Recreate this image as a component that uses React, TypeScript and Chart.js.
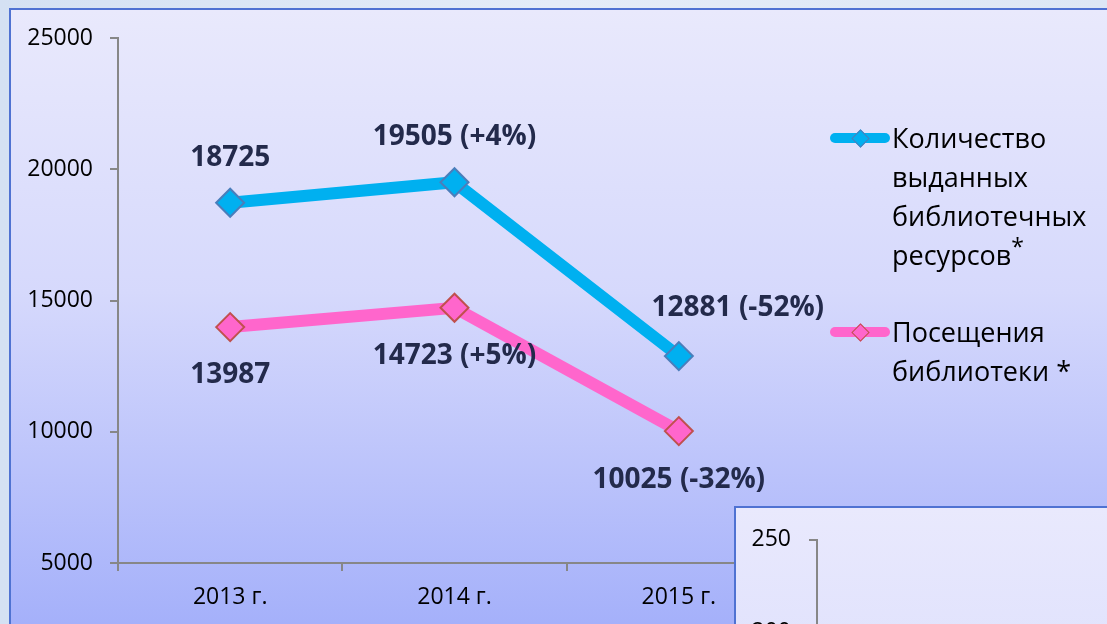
import React, { useEffect, useRef } from 'react';
import { Chart, registerables } from 'chart.js';

Chart.register(...registerables);

// ---- data ----
const categories = ['2013 г.', '2014 г.', '2015 г.'];
const issuedResources = [18725, 19505, 12881];
const libraryVisits = [13987, 14723, 10025];
const issuedChange = ['', '+4%', '-52%'];
const visitsChange = ['', '+5%', '-32%'];
const yMin = 5000;
const yMax = 25000;
const yStep = 5000;
const insetMin = 0;
const insetMax = 250;
const insetStep = 50;
const legendIssued = ['Количество', 'выданных', 'библиотечных', 'ресурсов'];
const legendVisits = ['Посещения', 'библиотеки *'];

// ---- styles ----
const FONT = '"Open Sans", "Noto Sans", sans-serif';
const BLUE = '#00b0f0';
const BLUE_EDGE = '#4a7ebb';
const PINK = '#ff66cc';
const PINK_EDGE = '#c0504d';
const LABEL_COLOR = '#232a4b';
const AXIS = '#878787';

// label placement (dx, dy) relative to each point
const labelOffsets = [
  [[0, -45], [0, -45], [59, -48]],
  [[0, 48], [0, 48], [0, 49]],
];

const labelPlugin = {
  id: 'pointLabels',
  afterDatasetsDraw(chart: any) {
    const ctx = chart.ctx;
    ctx.save();
    ctx.font = `bold 28px ${FONT}`;
    ctx.fillStyle = LABEL_COLOR;
    ctx.textAlign = 'center';
    ctx.textBaseline = 'middle';
    const changes = [issuedChange, visitsChange];
    chart.data.datasets.forEach((ds: any, di: number) => {
      const meta = chart.getDatasetMeta(di);
      meta.data.forEach((pt: any, i: number) => {
        const v = ds.data[i];
        const c = changes[di][i];
        const text = c ? `${v} (${c})` : `${v}`;
        const [dx, dy] = labelOffsets[di][i];
        ctx.fillText(text, pt.x + dx, pt.y + dy);
      });
    });
    ctx.restore();
  },
};

const plainTick = (v: any) => String(v);

function LegendMarker({ top, color, edge }: { top: number; color: string; edge: string }) {
  return (
    <>
      <div
        style={{
          position: 'absolute',
          left: 830,
          top: top - 5,
          width: 60,
          height: 10,
          borderRadius: 5,
          background: color,
        }}
      />
      <div
        style={{
          position: 'absolute',
          left: 860 - 6.5,
          top: top - 6.5,
          width: 11,
          height: 11,
          background: color,
          border: `1.5px solid ${edge}`,
          transform: 'rotate(45deg)',
        }}
      />
    </>
  );
}

export default function App() {
  const mainRef = useRef<HTMLCanvasElement>(null);
  const insetRef = useRef<HTMLCanvasElement>(null);

  useEffect(() => {
    const main = new Chart(mainRef.current as HTMLCanvasElement, {
      type: 'line',
      data: {
        labels: categories,
        datasets: [
          {
            label: legendIssued.join(' ') + '*',
            data: issuedResources,
            borderColor: BLUE,
            borderWidth: 12,
            tension: 0,
            pointStyle: 'rectRot',
            pointRadius: 14,
            pointBackgroundColor: BLUE,
            pointBorderColor: BLUE_EDGE,
            pointBorderWidth: 2,
          },
          {
            label: legendVisits.join(' '),
            data: libraryVisits,
            borderColor: PINK,
            borderWidth: 12,
            tension: 0,
            pointStyle: 'rectRot',
            pointRadius: 14,
            pointBackgroundColor: PINK,
            pointBorderColor: PINK_EDGE,
            pointBorderWidth: 2,
          },
        ],
      },
      options: {
        animation: false,
        responsive: false,
        maintainAspectRatio: false,
        layout: { padding: { top: 38, right: 316, left: 0, bottom: 0 } },
        plugins: { legend: { display: false }, tooltip: { enabled: false } },
        scales: {
          x: {
            offset: true,
            grid: { offset: true, drawOnChartArea: false, tickLength: 8, color: AXIS, lineWidth: 2 },
            border: { display: true, color: AXIS, width: 2 },
            ticks: { color: '#000', font: { family: FONT, size: 23 }, padding: 13 },
            afterFit(scale: any) {
              scale.height = 61;
            },
          },
          y: {
            min: yMin,
            max: yMax,
            ticks: {
              stepSize: yStep,
              color: '#000',
              font: { family: FONT, size: 23 },
              padding: 17,
              callback: plainTick,
            },
            grid: { drawOnChartArea: false, tickLength: 8, color: AXIS, lineWidth: 2 },
            border: { display: true, color: AXIS, width: 2 },
            afterFit(scale: any) {
              scale.width = 118;
            },
          },
        },
      },
      plugins: [labelPlugin],
    });

    const inset = new Chart(insetRef.current as HTMLCanvasElement, {
      type: 'line',
      data: { labels: [], datasets: [] },
      options: {
        animation: false,
        responsive: false,
        maintainAspectRatio: false,
        layout: { padding: { top: 29, right: 0, left: 0, bottom: 66 } },
        plugins: { legend: { display: false }, tooltip: { enabled: false } },
        scales: {
          x: { display: false },
          y: {
            min: insetMin,
            max: insetMax,
            ticks: {
              stepSize: insetStep,
              color: '#000',
              font: { family: FONT, size: 23 },
              padding: 18,
              callback: plainTick,
            },
            grid: { drawOnChartArea: false, tickLength: 8, color: AXIS, lineWidth: 2 },
            border: { display: true, color: AXIS, width: 2 },
            afterFit(scale: any) {
              scale.width = 81;
            },
          },
        },
      },
    });

    return () => {
      main.destroy();
      inset.destroy();
    };
  }, []);

  const legendText: React.CSSProperties = {
    position: 'absolute',
    left: 892,
    fontFamily: FONT,
    fontSize: 27,
    lineHeight: '39px',
    color: '#000',
    whiteSpace: 'nowrap',
  };

  return (
    <div
      style={{
        position: 'fixed',
        left: 0,
        top: 0,
        width: 1107,
        height: 624,
        overflow: 'hidden',
        background: 'linear-gradient(90deg, #d4e1f3 0%, #e4ecf8 50%, #dde7f5 100%)',
      }}
    >
      <div
        style={{
          position: 'absolute',
          left: 9,
          top: 8,
          width: 1120,
          height: 630,
          boxSizing: 'border-box',
          border: '2px solid #4f72d2',
          background: 'linear-gradient(180deg, #e9e9fc 0%, #d6d9fc 45%, #a3affa 100%)',
        }}
      />
      <canvas
        ref={mainRef}
        width={1107}
        height={624}
        style={{ position: 'absolute', left: 0, top: 0, width: 1107, height: 624 }}
      />
      <LegendMarker top={138} color={BLUE} edge={BLUE_EDGE} />
      <div style={{ ...legendText, top: 118 }}>
        {legendIssued.map((t, i) => (
          <div key={i}>
            {t}
            {i === legendIssued.length - 1 ? <sup style={{ fontSize: 23, lineHeight: 0 }}>*</sup> : null}
          </div>
        ))}
      </div>
      <LegendMarker top={332} color={PINK} edge={PINK_EDGE} />
      <div style={{ ...legendText, top: 312 }}>
        {legendVisits.map((t, i) => (
          <div key={i}>{t}</div>
        ))}
      </div>
      <div
        style={{
          position: 'absolute',
          left: 734,
          top: 506,
          width: 420,
          height: 300,
          boxSizing: 'border-box',
          border: '2px solid #4f72d2',
          background: 'linear-gradient(180deg, #e9e9fd 0%, #d8dbfc 100%)',
        }}
      />
      <canvas
        ref={insetRef}
        width={373}
        height={560}
        style={{ position: 'absolute', left: 736, top: 508, width: 373, height: 560 }}
      />
    </div>
  );
}
